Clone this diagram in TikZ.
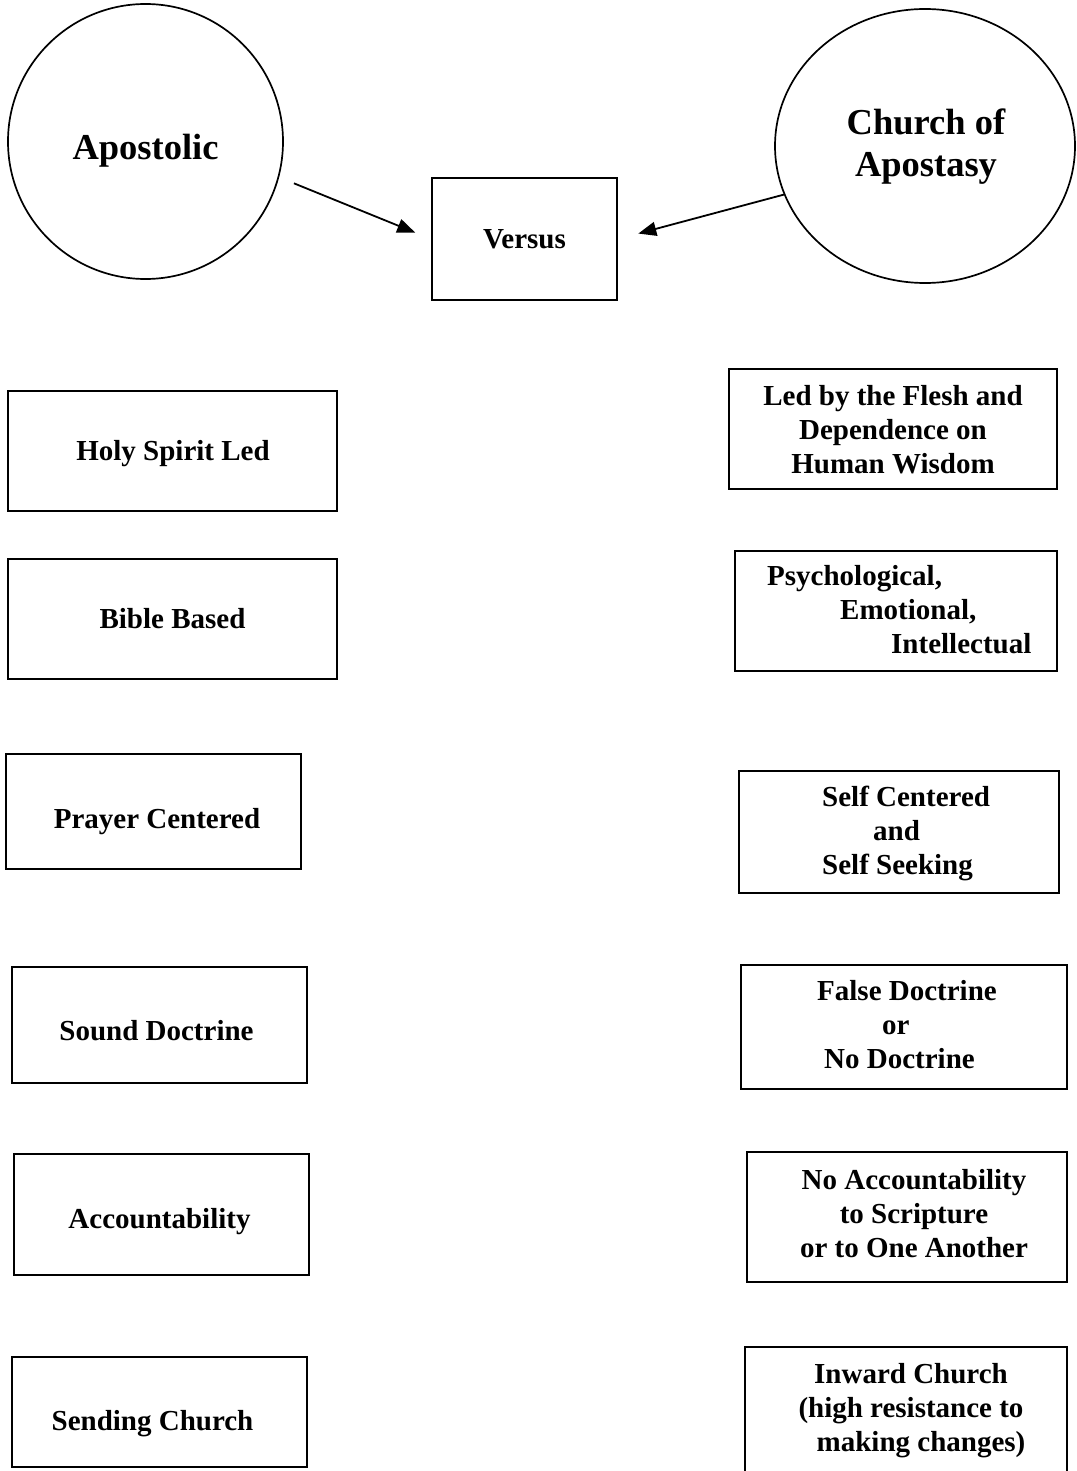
\documentclass[tikz,border=0pt]{standalone}
\usepackage{fontspec}
\setmainfont{Liberation Serif}
\usetikzlibrary{arrows.meta,shapes.geometric}

\begin{document}
\begin{tikzpicture}[x=1pt,y=-1pt,
    box/.style={draw, line width=2pt, inner sep=0pt},
    blob/.style={draw, line width=1.7pt, inner sep=0pt},
    txt/.style={font=\fontsize{29}{34}\selectfont\bfseries, inner sep=0pt},
    big/.style={font=\fontsize{36.5}{42}\selectfont\bfseries, inner sep=0pt},
    arr/.style={line width=1.8pt, -{Triangle[length=18pt,width=14pt]}}]
  \useasboundingbox (0,0) rectangle (1076,1471);

  % top: the two churches and the versus box
  \node[blob, circle, minimum size=275] (apost) at (145.5,141.5) {};
  \node[big, anchor=base] (apostt) at (145.5,160) {Apostolic};
  \node[blob, ellipse, minimum width=300, minimum height=274] (apostasy) at (925,146) {};
  \node[big, anchor=base, align=center] (apostasyt) at (926,177) {Church of\\Apostasy};
  \node[box, txt, minimum width=185, minimum height=122] (versus) at (524.5,239) {Versus};
  \draw[arr, shorten <=16pt, shorten >=17pt] (apost.-15) -- (versus.west);
  \draw[arr, shorten >=21pt] (apostasy.199) -- (versus.east);

  % left column
  \node[box, minimum width=329, minimum height=120] (holy) at (172.5,451) {};
  \node[txt, anchor=base] (holyt) at (173,460) {Holy Spirit Led};
  \node[box, minimum width=329, minimum height=120] (bible) at (172.5,619) {};
  \node[txt, anchor=base] (biblet) at (172.5,628) {Bible Based};
  \node[box, minimum width=295, minimum height=115] (prayer) at (153.5,811.5) {};
  \node[txt, anchor=base] (prayert) at (157,828) {Prayer Centered};
  \node[box, minimum width=295, minimum height=116] (sound) at (159.5,1025) {};
  \node[txt, anchor=base] (soundt) at (156.5,1040) {Sound Doctrine};
  \node[box, minimum width=295, minimum height=121] (account) at (161.5,1214.5) {};
  \node[txt, anchor=base] (accountt) at (159.5,1228) {Accountability};
  \node[box, minimum width=295, minimum height=110] (sending) at (159.5,1412) {};
  \node[txt, anchor=base] (sendingt) at (152.5,1430) {Sending Church};

  % right column
  \node[box, minimum width=328, minimum height=120] (flesh) at (893,429) {};
  \node[txt, anchor=base, align=center] (flesht) at (893,473) {Led by the Flesh and\\Dependence on\\Human Wisdom};
  \node[box, minimum width=322, minimum height=120] (psych) at (896,611) {};
  \node[txt, anchor=base west, align=left] (psycht) at (767,653) {Psychological,\\\hspace*{73pt}Emotional,\\\hspace*{124pt}Intellectual};
  \node[box, minimum width=320, minimum height=122] (self) at (899,832) {};
  \node[txt, anchor=base west, align=left] (selft) at (822,874) {Self Centered\\\hspace*{51pt}and\\Self Seeking};
  \node[box, minimum width=326, minimum height=124] (false) at (904,1027) {};
  \node[txt, anchor=base west, align=left] (falset) at (817,1068) {False Doctrine\\\hspace*{65pt}or\\\hspace*{7pt}No Doctrine};
  \node[box, minimum width=320, minimum height=130] (noacc) at (907,1217) {};
  \node[txt, anchor=base, align=center] (noacct) at (914,1257) {No Accountability\\to Scripture\\or to One Another};
  \node[box, minimum width=322, minimum height=130] (inward) at (906,1412) {};
  \node[txt, anchor=base, align=center] (inwardt) at (911,1451) {Inward Church\\(high resistance to\\\hspace*{20pt}making changes)};
\end{tikzpicture}
\end{document}
